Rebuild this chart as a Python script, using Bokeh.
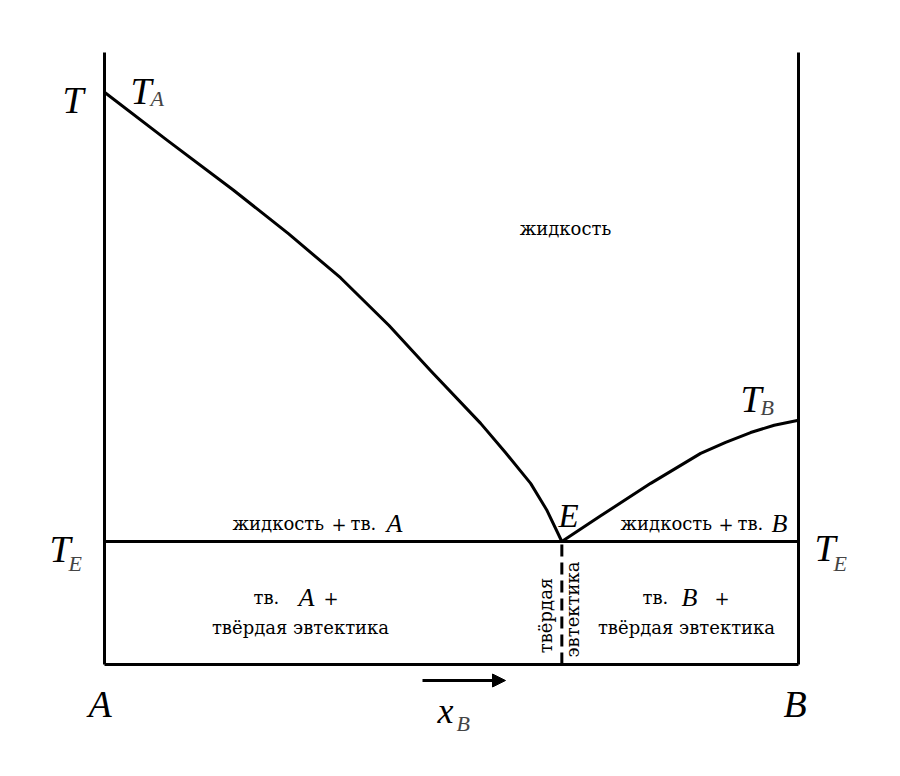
import math
from bokeh.plotting import figure
from bokeh.models import Label, Range1d, Arrow, NormalHead
from bokeh.embed import file_html
from bokeh.resources import INLINE

# ---- data (composition x_B from 0 = A to 1 = B, temperature in relative units) ----
comp_liq_A = [0.0, 0.091, 0.186, 0.265, 0.340, 0.410, 0.470, 0.542, 0.578, 0.614, 0.637, 0.659]
T_liq_A = [0.935, 0.856, 0.775, 0.704, 0.632, 0.554, 0.480, 0.394, 0.346, 0.296, 0.253, 0.201]
comp_liq_B = [0.659, 0.715, 0.787, 0.859, 0.895, 0.931, 0.965, 1.0]
T_liq_B = [0.201, 0.243, 0.296, 0.345, 0.363, 0.379, 0.391, 0.399]
comp_ends = [0.0, 1.0]
T_axis = [0.0, 1.0]
x_E = 0.659
T_E = 0.201

W, H = 900, 776
SX, SY = 694.0, 612.0          # pixels per unit
A_PX, T0_PX, T1_PX = 104, 664, 52
x_start = -A_PX / SX
y_end = 1 + T1_PX / SY


def dx(px):
    return (px - A_PX) / SX


def dy(py):
    return (T0_PX - py) / SY


p = figure(width=W, height=H, output_backend="svg", toolbar_location=None,
           x_range=Range1d(x_start, x_start + W / SX),
           y_range=Range1d(y_end - H / SY, y_end),
           x_axis_type=None, y_axis_type=None,
           min_border=0, min_border_left=0, min_border_right=0,
           min_border_top=0, min_border_bottom=0)
p.outline_line_color = None
p.grid.visible = False
p.background_fill_color = "white"
p.border_fill_color = "white"

LW = 3
p.line([comp_ends[0], comp_ends[0]], T_axis, line_width=LW, color="black")
p.line([comp_ends[1], comp_ends[1]], T_axis, line_width=LW, color="black")
p.line(comp_ends, [T_axis[0], T_axis[0]], line_width=LW, color="black")
p.line(comp_ends, [T_E, T_E], line_width=LW, color="black")
p.line([x_E, x_E], [T_axis[0], T_E], line_width=LW, color="black", line_dash="12 6")
p.line(comp_liq_A, T_liq_A, line_width=LW, color="black", line_join="round")
p.line(comp_liq_B, T_liq_B, line_width=LW, color="black", line_join="round")

p.add_layout(Arrow(end=NormalHead(size=13, fill_color="black", line_color="black"),
                   x_start=dx(422), y_start=dy(680), x_end=dx(505), y_end=dy(680),
                   line_width=3, line_color="black"))

LAT = "Liberation Serif"   # Latin italic symbols
CYR = "DejaVu Serif"       # Cyrillic region labels


def lab(px, py, text, size, italic=False, align="left", angle=0.0, color="black", font=LAT):
    p.add_layout(Label(x=dx(px), y=dy(py), text=text, text_font=font,
                       text_font_size=f"{size}px",
                       text_font_style="italic" if italic else "normal",
                       text_align=align, text_baseline="alphabetic",
                       angle=angle, text_color=color))


SUB = "#444444"
lab(62, 99, "T", 38, italic=True)
lab(130, 90, "T", 38, italic=True)
lab(150, 98, "A", 22, italic=True, color=SUB)
lab(49, 548, "T", 38, italic=True)
lab(68, 563, "E", 22, italic=True, color=SUB)
lab(814, 547, "T", 38, italic=True)
lab(833, 563, "E", 22, italic=True, color=SUB)
lab(740, 398, "T", 38, italic=True)
lab(760, 407, "B", 22, italic=True, color=SUB)
lab(88, 703, "A", 38, italic=True)
lab(783, 703, "B", 38, italic=True)
lab(558, 515, "E", 33, italic=True)
lab(437, 710, "x", 36, italic=True)
lab(456, 723, "B", 22, italic=True, color=SUB)

FS = 18
lab(565, 228, "жидкость", FS, align="center", font=CYR)
# left region
lab(232, 523, "жидкость", FS, font=CYR)
lab(331, 523, "+", FS, font=CYR)
lab(350, 523, "тв.", FS, font=CYR)
lab(386, 523, "A", 26, italic=True)
lab(253, 597, "тв.", FS, font=CYR)
lab(298, 597, "A", 26, italic=True)
lab(323, 597, "+", FS, font=CYR)
lab(300, 627, "твёрдая эвтектика", FS, align="center", font=CYR)
# right region
lab(620, 523, "жидкость", FS, font=CYR)
lab(718, 523, "+", FS, font=CYR)
lab(737, 523, "тв.", FS, font=CYR)
lab(771, 523, "B", 26, italic=True)
lab(642, 597, "тв.", FS, font=CYR)
lab(681, 597, "B", 26, italic=True)
lab(714, 597, "+", FS, font=CYR)
lab(686, 627, "твёрдая эвтектика", FS, align="center", font=CYR)
# eutectic column (vertical)
lab(544.5, 615, "твёрдая", FS, align="center", angle=math.pi / 2, font=CYR)
lab(571.5, 609, "эвтектика", FS, align="center", angle=math.pi / 2, font=CYR)

open("out.html", "w").write(file_html(p, INLINE))
